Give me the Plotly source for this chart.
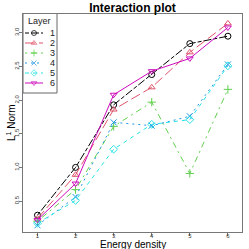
import plotly.graph_objects as go

energy = [1, 2, 3, 4, 5, 6]
layers = ["1", "2", "3", "4", "5", "6"]
l1 = [0.29, 1.00, 1.93, 2.38, 2.84, 2.95]
l2 = [0.24, 0.89, 1.86, 2.19, 2.71, 3.14]
l3 = [0.20, 0.67, 1.61, 1.97, 0.91, 2.16]
l4 = [0.14, 0.56, 1.67, 1.62, 1.76, 2.53]
l5 = [0.17, 0.51, 1.27, 1.64, 1.71, 2.51]
l6 = [0.22, 0.76, 2.08, 2.43, 2.62, 3.08]
series = [l1, l2, l3, l4, l5, l6]

colors = ["black", "#DF536B", "#61D04F", "#2297E6", "#28E2E5", "#CD0BBC"]
symbols = ["circle-open", "triangle-up-open", "cross-thin-open", "x-thin-open", "diamond-open", "triangle-down-open"]
dashes = ["4px,2px,8px,2px", "10px,4px", "2px,4px,6px,4px", "2px,4px", "4px,4px", "solid"]

W, H = 249, 249
ML, MR, MT, MB = 23, 7, 14, 17
PW, PH = W - ML - MR, H - MT - MB

fig = go.Figure()
for name, vals, c, s, d in zip(layers, series, colors, symbols, dashes):
    fig.add_trace(go.Scatter(
        x=energy, y=vals, name=name, mode="lines+markers", showlegend=False,
        line=dict(color=c, width=1, dash=d),
        marker=dict(symbol=s, size=6, color=c, line=dict(color=c, width=1)),
    ))

# hand-built legend on an overlay axis (x2: px from plot left, y2: layer index)
for i, (name, c, s, d) in enumerate(zip(layers, colors, symbols, dashes), start=1):
    fig.add_trace(go.Scatter(
        x=[2, 11, 20], y=[i, i, i], xaxis="x2", yaxis="y2", mode="lines+markers",
        showlegend=False, hoverinfo="skip",
        line=dict(color=c, width=1, dash=d),
        marker=dict(symbol=s, size=[0, 5, 0], color=c, line=dict(color=c, width=1)),
    ))
    fig.add_annotation(x=25, y=i, xref="x2", yref="y2", text=name, showarrow=False,
                       xanchor="left", yanchor="middle", font=dict(size=9, color="#222"))
fig.add_annotation(x=16.5, y=-0.25, xref="x2", yref="y2", text="Layer", showarrow=False,
                   xanchor="center", yanchor="middle", font=dict(size=9, color="#222"))
fig.add_shape(type="rect", x0=0, x1=34, y0=-1.0, y1=7.0, xref="x2", yref="y2",
              line=dict(color="#666", width=1), fillcolor="rgba(0,0,0,0)")

fig.add_annotation(text="Energy density", x=0.5, y=-(244.5 - (MT + PH)) / PH,
                   xref="paper", yref="paper", showarrow=False, xanchor="center", yanchor="middle",
                   font=dict(size=10))
fig.add_annotation(text="L<sup>1</sup> Norm", x=-(ML - 11) / PW, y=0.5, xref="paper", yref="paper",
                   showarrow=False, xanchor="center", yanchor="middle", textangle=-90, font=dict(size=10))

fig.update_layout(
    width=W, height=H,
    margin=dict(l=ML, r=MR, t=MT, b=MB),
    paper_bgcolor="white", plot_bgcolor="white",
    font=dict(family="Liberation Sans, Arial, sans-serif", color="black"),
    title=dict(text="<b>Interaction plot</b>", x=(ML + PW / 2) / W, xanchor="center", y=1 - 7.5 / H,
               yanchor="middle", font=dict(size=12)),
    showlegend=False,
    xaxis2=dict(overlaying="x", range=[0, PW], visible=False, fixedrange=True),
    yaxis2=dict(overlaying="y", range=[1 + (PH - 19) / 10, 1 - 19 / 10], visible=False, fixedrange=True),
    xaxis=dict(range=[0.62, 6.37], tickvals=energy, ticktext=[str(v) for v in energy], automargin=False,
               showgrid=False, zeroline=False, showline=True, mirror=True, linecolor="#777", linewidth=1,
               ticks="outside", ticklen=3, tickcolor="#777", tickfont=dict(size=6, color="#333"),
               ticklabelstandoff=-5),
    yaxis=dict(range=[0.04, 3.28], tickvals=[0.5, 1.0, 1.5, 2.0, 2.5, 3.0], automargin=False,
               ticktext=["0.5", "1.0", "1.5", "2.0", "2.5", "3.0"], tickangle=-90,
               showgrid=False, zeroline=False, showline=True, mirror=True, linecolor="#777", linewidth=1,
               ticks="outside", ticklen=3, tickcolor="#777", tickfont=dict(size=6, color="#333"),
               ticklabelstandoff=-2),
)

fig.write_html("out.html", config={"displayModeBar": False},
               post_script="document.body.style.margin='0px';")
